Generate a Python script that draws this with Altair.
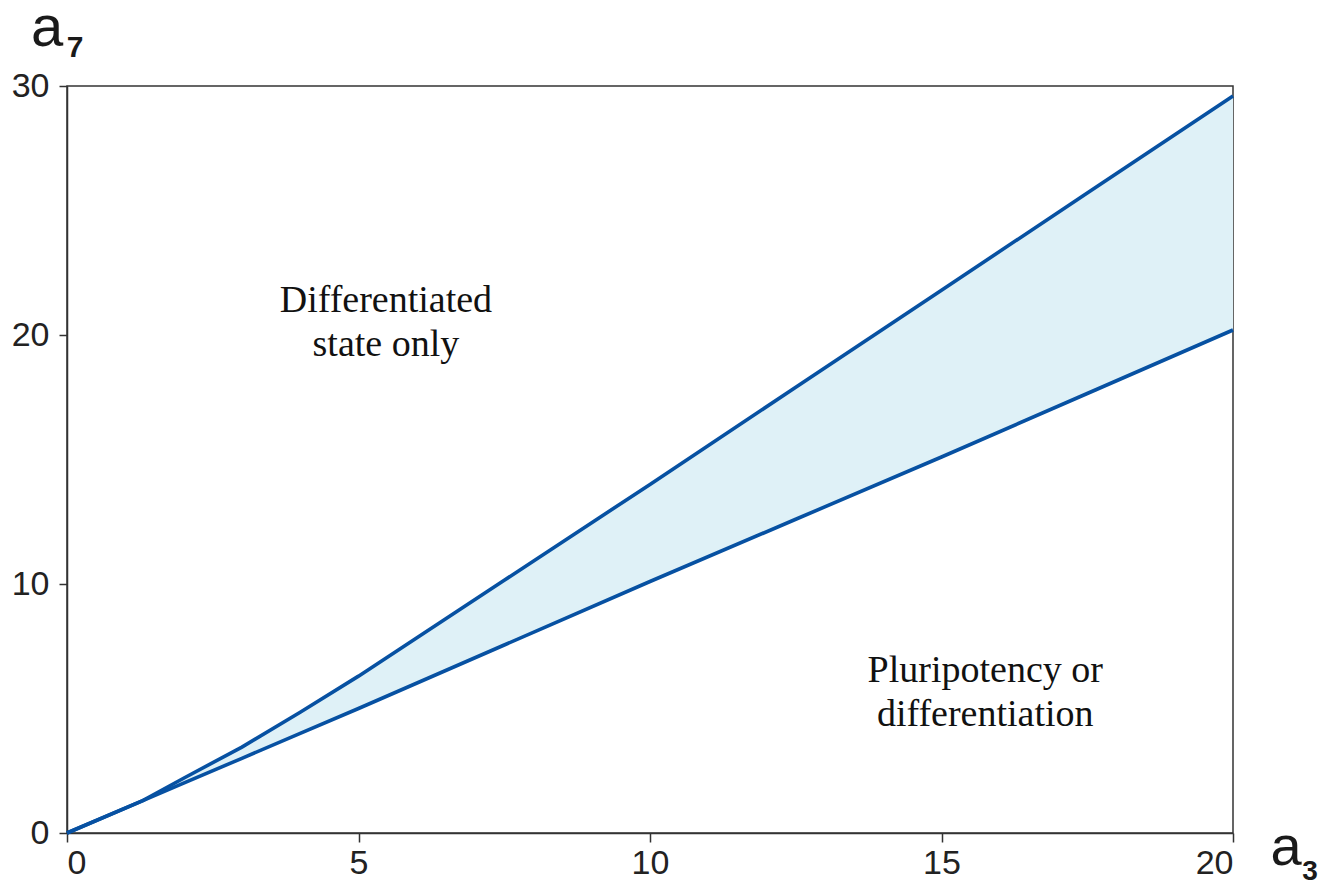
import altair as alt
import pandas as pd

# boundary curves
a3 = [0, 1.3, 2, 3, 4, 5, 7.5, 10, 12.5, 15, 17.5, 20]
upper = [0, 1.3, 2.2, 3.45, 4.85, 6.3, 10.15, 14.0, 17.9, 21.8, 25.7, 29.6]
lower = [0, 1.3, 2.0, 3.0, 4.0, 5.0, 7.55, 10.1, 12.6, 15.1, 17.65, 20.2]

region_text = ["Differentiated\nstate only", "Pluripotency or\ndifferentiation"]
region_x = [5.47, 15.75]
region_y = [21.35, 6.5]

x_ticks = [0, 5, 10, 15, 20]
y_ticks = [0, 10, 20, 30]

df = pd.DataFrame({"a3": a3, "upper": upper, "lower": lower})
lab = pd.DataFrame({"t": region_text, "x": region_x, "y": region_y})

LINE = "#0751a2"
FILL = "#dff1f7"
W, H = 1166, 747

xs = alt.Scale(domain=[0, 20], nice=False)
ys = alt.Scale(domain=[0, 30], nice=False)

xax = alt.Axis(values=x_ticks, format="d", grid=False, title=None, labelFontSize=34, labelFont="Liberation Sans",
               labelColor="#222", domainColor="#333", tickColor="#333", tickSize=9, labelPadding=4,
               labelFlush=True, domainWidth=1.5, tickWidth=1.5)
yax = alt.Axis(values=y_ticks, format="d", grid=False, title=None, labelFontSize=34, labelFont="Liberation Sans",
               labelColor="#222", domainColor="#333", tickColor="#333", tickSize=8, labelPadding=10,
               domainWidth=1.5, tickWidth=1.5)

base = alt.Chart(df)
area = base.mark_area(color=FILL, opacity=1).encode(
    x=alt.X("a3:Q", scale=xs, axis=xax),
    y=alt.Y("upper:Q", scale=ys, axis=yax),
    y2="lower:Q",
)
l_up = base.mark_line(color=LINE, strokeWidth=3.6).encode(x=alt.X("a3:Q", scale=xs), y=alt.Y("upper:Q", scale=ys))
l_lo = base.mark_line(color=LINE, strokeWidth=3.6).encode(x=alt.X("a3:Q", scale=xs), y=alt.Y("lower:Q", scale=ys))

regions = alt.Chart(lab).mark_text(font="Liberation Serif", fontSize=38, color="#111", lineHeight=44,
                                   lineBreak="\n", align="center", baseline="middle").encode(
    x=alt.X("x:Q", scale=xs), y=alt.Y("y:Q", scale=ys), text="t:N")

one = pd.DataFrame({"k": [0]})
def txt(s, x, y, size, baseline="alphabetic", weight="normal"):
    return alt.Chart(one).mark_text(text=s, font="Liberation Sans", fontSize=size, color="#1a1a1a",
                                    fontWeight=weight, align="center", baseline=baseline).encode(
        x=alt.value(x), y=alt.value(y))

titles = [
    txt("a", -20, -40, 58),
    txt("7", 8, -29, 30, weight="bold"),
    txt("a", 1219, 779, 56),
    txt("3", 1243, 772, 28, baseline="top", weight="bold"),
]

chart = alt.layer(area, l_up, l_lo, regions, *titles).properties(
    width=W, height=H,
    autosize=alt.AutoSizeParams(type="none"),
    padding={"left": 59, "top": 78, "right": 90, "bottom": 50},
).configure_view(stroke="#333", strokeWidth=1.5)

chart.save("out.html", embed_options={"renderer": "svg", "actions": False})
